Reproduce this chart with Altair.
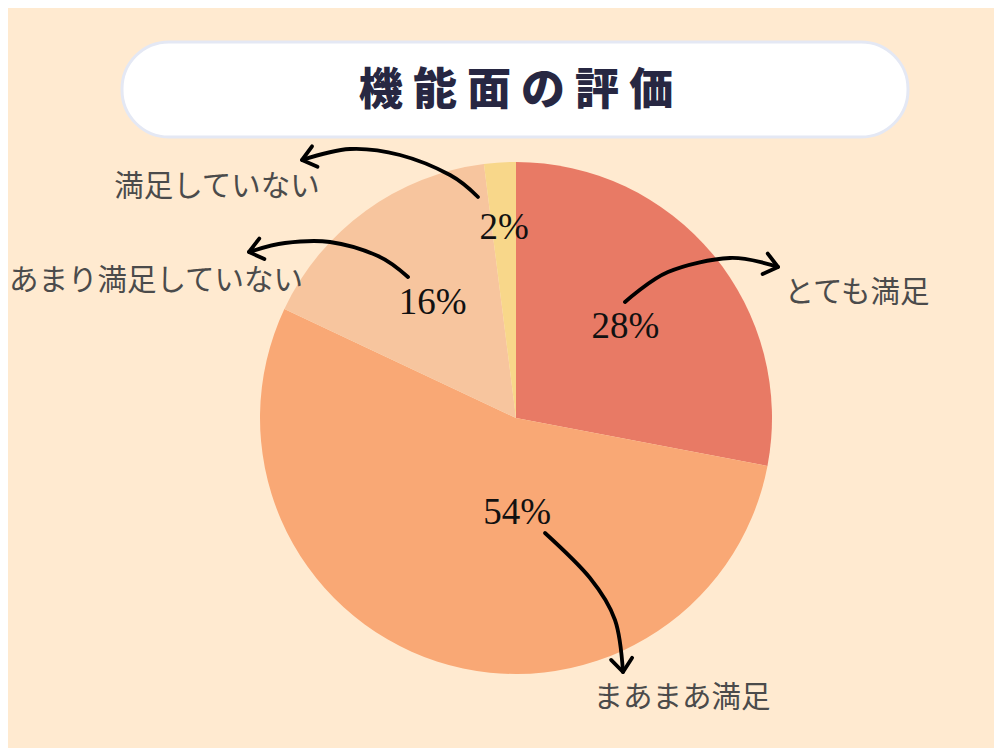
import altair as alt
import pandas as pd

# ---------------- data ----------------
title = "機 能 面 の 評 価"
categories = ["とても満足", "まあまあ満足", "あまり満足していない", "満足していない"]
values = [28, 54, 16, 2]
pct_labels = ["28%", "54%", "16%", "2%"]
slice_colors = ["#E87A65", "#F9A875", "#F7C59E", "#F8D78A"]

# ---------------- annotation geometry (page pixels) ----------------
cat_label_x = [857, 682, 156, 217]
cat_label_y = [293, 698, 281, 187]

arrow_id = [1, 1, 1, 1, 2, 2, 2, 2, 2, 3, 3, 3, 3, 3, 4, 4, 4, 4]
arrow_x = [625, 668, 730, 778,
           478, 450, 400, 350, 302,
           408, 378, 330, 285, 249,
           545, 590, 615, 623]
arrow_y = [302, 272, 258, 267,
           197, 175, 155, 149, 160,
           277, 256, 242, 243, 252,
           533, 578, 620, 672]
head_x = [778, 302, 249, 623]
head_y = [267, 160, 252, 672]
head_angle = [14, 165, 166, 84]

BG = "#FFEAD0"
W, H = 986, 740
CX, CY = 516 - 8, 418 - 8
R = 256

xs = alt.Scale(domain=[8, 8 + W], nice=False, zero=False)
ys = alt.Scale(domain=[8, 8 + H], nice=False, zero=False, reverse=True)

pie_df = pd.DataFrame({
    "idx": list(range(len(categories))),
    "category": categories,
    "value": values,
    "label": pct_labels,
})

pie = alt.Chart(pie_df).mark_arc(radius=R, stroke=None).encode(
    theta=alt.Theta("value:Q", stack=True),
    order=alt.Order("idx:Q"),
    color=alt.Color("category:N", scale=alt.Scale(domain=categories, range=slice_colors), legend=None),
    x=alt.value(CX),
    y=alt.value(CY),
)

base_txt = alt.Chart(pie_df).transform_window(
    cum="sum(value)", sort=[alt.SortField("idx")]
).transform_joinaggregate(
    total="sum(value)"
).transform_calculate(
    mid="(datum.cum - datum.value/2)/datum.total"
)

def pct_layer(filt, radius, dx=0):
    return base_txt.transform_filter(filt).mark_text(
        radius=radius, dx=dx, font="Liberation Serif", fontSize=37, color="#111111",
        align="center", baseline="middle"
    ).encode(
        theta=alt.Theta("mid:Q", stack=None, scale=alt.Scale(domain=[0, 1], range=[0, 6.283185307179586])),
        text="label:N",
        x=alt.value(CX),
        y=alt.value(CY),
    )

pct_mid = pct_layer("datum.value >= 10 && datum.value < 50", 142)
pct_big = pct_layer("datum.value >= 50", 100, dx=32)
pct_small = pct_layer("datum.value < 10", 190)

lab_df = pd.DataFrame({"category": categories, "x": cat_label_x, "y": cat_label_y})
cat_labels = alt.Chart(lab_df).mark_text(
    font="Noto Sans CJK JP", fontSize=29.5, color="#4B4B4B", align="center", baseline="middle"
).encode(
    x=alt.X("x:Q", scale=xs, axis=None),
    y=alt.Y("y:Q", scale=ys, axis=None),
    text="category:N",
)

arr_df = pd.DataFrame({"id": arrow_id, "x": arrow_x, "y": arrow_y, "seq": list(range(len(arrow_x)))})
arrows = alt.Chart(arr_df).mark_line(
    interpolate="cardinal", color="#000000", strokeWidth=3.8, strokeCap="round"
).encode(
    x=alt.X("x:Q", scale=xs, axis=None),
    y=alt.Y("y:Q", scale=ys, axis=None),
    detail="id:N",
    order=alt.Order("seq:Q"),
)

head_df = pd.DataFrame({"x": head_x, "y": head_y, "ang": head_angle})
heads = alt.Chart(head_df).mark_point(
    shape="M-1,-0.8L0,0L-1,0.8", filled=False, size=700, color="#000000",
    strokeWidth=3.8, strokeCap="round", strokeJoin="round", opacity=1
).encode(
    x=alt.X("x:Q", scale=xs, axis=None),
    y=alt.Y("y:Q", scale=ys, axis=None),
    angle=alt.Angle("ang:Q", scale=None),
)

title_df = pd.DataFrame({"t": [title]})
title_box = alt.Chart(title_df).mark_rect(
    cornerRadius=47, fill="#FFFFFF", stroke="#E4E8F4", strokeWidth=3
).encode(
    x=alt.XDatum(122, type="quantitative", scale=xs, axis=None),
    x2=alt.X2Datum(908),
    y=alt.YDatum(42, type="quantitative", scale=ys, axis=None),
    y2=alt.Y2Datum(137),
)
title_txt = alt.Chart(title_df).mark_text(
    font="Noto Sans CJK JP", fontSize=44, fontWeight=900, color="#272742",
    align="center", baseline="middle"
).encode(
    x=alt.XDatum(516, type="quantitative", scale=xs, axis=None),
    y=alt.YDatum(92, type="quantitative", scale=ys, axis=None),
    text="t:N",
)

chart = alt.layer(
    pie, pct_mid, pct_big, pct_small, arrows, heads, cat_labels, title_box, title_txt
).resolve_scale(
    theta="independent"
).properties(
    width=W, height=H, padding=0, autosize=alt.AutoSizeParams(type="none"), background=BG
).configure_view(stroke=None)

chart.save("out.html", embed_options={"renderer": "svg", "actions": False})
